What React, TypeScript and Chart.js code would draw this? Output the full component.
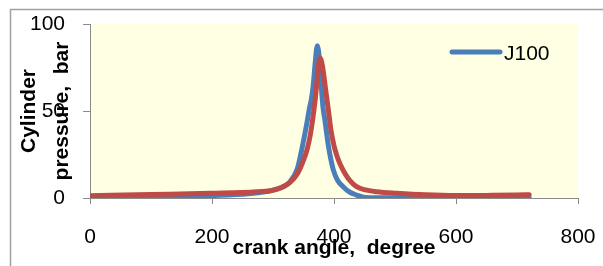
import React, { useEffect, useRef } from "react";
import { Chart, registerables } from "chart.js";

Chart.register(...registerables);

const xTicks = [0, 200, 400, 600, 800];
const yTicks = [0, 50, 100];

const blueLabel = "J100";
const blueAngles = [0, 100, 200, 260, 300, 328, 340, 347, 355, 360, 363, 366, 369, 372.6, 376, 379, 382, 385, 388, 391, 395, 399, 406, 415, 425, 437, 448, 470, 600, 720];
const bluePressure = [0.3, 0.8, 1.5, 2.5, 4.5, 9.4, 17, 27.6, 42, 52, 57, 65, 77, 87.5, 80, 65, 52, 45, 37, 29.5, 22, 16, 10, 6.5, 3.5, 1.7, 0.5, 0.1, 0.1, 0.2];

const redLabel = "Diesel";
const redAngles = [0, 100, 197, 273, 306, 328, 340, 348, 356, 361, 365, 369, 373, 377, 381, 386, 391, 395, 400, 405, 410, 415, 425, 437, 450, 470, 503, 550, 600, 650, 700, 720];
const redPressure = [1.3, 2, 2.7, 3.6, 5, 9, 14, 20, 28, 36, 45, 56, 70, 80.5, 76, 63, 50, 39, 30, 24, 19.5, 16, 10.5, 6.5, 4.8, 3.6, 2.7, 1.8, 1.4, 1.5, 1.7, 1.9];

const BLUE = "#4A7EBB";
const RED = "#BE4B48";
const AXIS = "#8a8a8a";
const FONT = "'Liberation Sans', Arial, sans-serif";

const toPoints = (xs: number[], ys: number[]) => xs.map((x, i) => ({ x, y: ys[i] }));

const clearPadding = (s: any) => {
  s.paddingLeft = 0;
  s.paddingRight = 0;
  s.paddingTop = 0;
  s.paddingBottom = 0;
};

const framePlugin = {
  id: "frame",
  beforeDraw(chart: any) {
    const { ctx, chartArea } = chart;
    ctx.save();
    ctx.fillStyle = "#FFFFE3";
    ctx.fillRect(chartArea.left, chartArea.top, chartArea.right - chartArea.left, chartArea.bottom - chartArea.top);
    ctx.strokeStyle = "#a0a0a0";
    ctx.lineWidth = 1.5;
    ctx.beginPath();
    ctx.moveTo(10.5, 266);
    ctx.lineTo(10.5, 9.5);
    ctx.lineTo(603, 9.5);
    ctx.stroke();
    ctx.restore();
  },
};

const legendPlugin = {
  id: "innerLegend",
  afterDraw(chart: any) {
    const { ctx, chartArea } = chart;
    const ds = chart.data.datasets.find((d: any) => d.label === blueLabel);
    if (!ds) return;
    const x0 = chartArea.right - 126;
    const y = chartArea.top + 28;
    ctx.save();
    ctx.strokeStyle = ds.borderColor;
    ctx.lineWidth = 5;
    ctx.lineCap = "round";
    ctx.beginPath();
    ctx.moveTo(x0, y);
    ctx.lineTo(x0 + 48, y);
    ctx.stroke();
    ctx.fillStyle = "#000";
    ctx.font = `21px ${FONT}`;
    ctx.textBaseline = "alphabetic";
    ctx.textAlign = "left";
    ctx.fillText(ds.label, x0 + 52, y + 7.5);
    ctx.restore();
  },
};

export default function App() {
  const ref = useRef<HTMLCanvasElement | null>(null);

  useEffect(() => {
    if (!ref.current) return;
    const chart = new Chart(ref.current, {
      type: "line",
      data: {
        datasets: [
          {
            label: blueLabel,
            data: toPoints(blueAngles, bluePressure),
            borderColor: BLUE,
            backgroundColor: BLUE,
            borderWidth: 5,
            pointRadius: 0,
            cubicInterpolationMode: "monotone",
            borderCapStyle: "round",
            borderJoinStyle: "round",
            order: 1,
          },
          {
            label: redLabel,
            data: toPoints(redAngles, redPressure),
            borderColor: RED,
            backgroundColor: RED,
            borderWidth: 5,
            pointRadius: 0,
            cubicInterpolationMode: "monotone",
            borderCapStyle: "round",
            borderJoinStyle: "round",
            order: 0,
          },
        ],
      },
      options: {
        responsive: false,
        animation: false,
        devicePixelRatio: 1,
        layout: { padding: { left: 0, top: 24, right: 25, bottom: 0 } },
        plugins: {
          legend: { display: false },
          tooltip: { enabled: false },
        },
        scales: {
          x: {
            type: "linear",
            min: 0,
            max: 800,
            afterBuildTicks: (s: any) => {
              s.ticks = xTicks.map((v) => ({ value: v }));
            },
            afterFit: (s: any) => {
              s.height = 68;
              clearPadding(s);
            },
            ticks: {
              color: "#000",
              font: { family: FONT, size: 21 },
              padding: 21,
              maxRotation: 0,
              autoSkip: false,
            },
            grid: { drawOnChartArea: false, tickLength: 6, tickColor: AXIS, color: AXIS },
            border: { color: AXIS, width: 1 },
            title: {
              display: true,
              text: "crank angle,  degree",
              color: "#000",
              font: { family: FONT, size: 21, weight: "bold", lineHeight: 1.2 },
              padding: { top: 0, bottom: 5 },
            },
          },
          y: {
            type: "linear",
            min: 0,
            max: 100,
            afterBuildTicks: (s: any) => {
              s.ticks = yTicks.map((v) => ({ value: v }));
            },
            afterFit: (s: any) => {
              s.width = 90;
              clearPadding(s);
            },
            ticks: {
              color: "#000",
              font: { family: FONT, size: 21 },
              padding: 18,
              autoSkip: false,
            },
            grid: { drawOnChartArea: false, tickLength: 7, tickColor: AXIS, color: AXIS },
            border: { color: AXIS, width: 1 },
            title: {
              display: true,
              text: ["Cylinder", "pressure,  bar"],
              color: "#000",
              font: { family: FONT, size: 21, weight: "bold", lineHeight: 1.57 },
              padding: { top: 13, bottom: 0 },
            },
          },
        },
      },
      plugins: [framePlugin, legendPlugin],
    } as any);
    return () => chart.destroy();
  }, []);

  return (
    <div style={{ position: "fixed", left: 0, top: 0, width: 603, height: 266, background: "#fff" }}>
      <canvas ref={ref} width={603} height={266} style={{ width: 603, height: 266, display: "block" }} />
    </div>
  );
}
